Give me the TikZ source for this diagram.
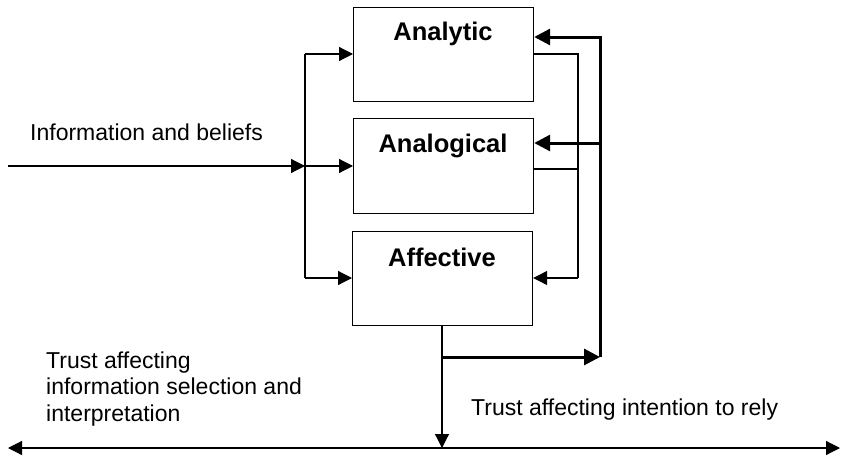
\documentclass[tikz,border=0pt]{standalone}
\usepackage{fontspec}
\setmainfont{Liberation Sans}
\usetikzlibrary{arrows.meta}
\begin{document}
\begin{tikzpicture}[x=1pt,y=-1pt,
  box/.style={draw,line width=1.2pt,minimum width=180pt,minimum height=94pt,inner sep=0pt,anchor=north west},
  boxlabel/.style={font=\fontsize{25.5}{28}\selectfont\bfseries,inner sep=0pt},
  plain/.style={font=\fontsize{23}{26.5}\selectfont,inner sep=0pt},
  thin/.style={line width=1.2pt},
  thick/.style={line width=3pt},
  tip/.style={-{Triangle[length=14pt,width=14pt]}},
  tipthick/.style={-{Triangle[length=16pt,width=16pt]}}]
\useasboundingbox (0,0) rectangle (844,458);
% boxes
\node[box] (an) at (353,7) {};
\node[box,minimum height=95pt] (ag) at (353,118) {};
\node[box] (af) at (352,231) {};
\node[boxlabel] (anl) at (443,34) {Analytic};
\node[boxlabel] (agl) at (443,146) {Analogical};
\node[boxlabel] (afl) at (442,257) {Affective};
% coordinates
\coordinate (in) at (8,166);
\coordinate (busm) at (305,166);
\coordinate (bust) at (305,54);
\coordinate (busb) at (305,278);
\coordinate (rt) at (578,54);
\coordinate (rm) at (578,169);
\coordinate (rb) at (578,278);
\coordinate (down) at (442,448);
\coordinate (br) at (442,357);
\coordinate (tb) at (600,357);
\coordinate (tt) at (600,37);
\coordinate (tm) at (600,143);
\coordinate (bl) at (8,448);
\coordinate (brr) at (840,448);
% left bus
\draw[thin,tip] (in) -- (busm);
\draw[thin] (bust) -- (busb);
\draw[thin,tip] (busm) -- (busm -| ag.west);
\draw[thin,tip] (bust) -- (bust -| an.west);
\draw[thin,tip] (busb) -- (busb -| af.west);
% right thin loop
\draw[thin] (rt -| an.east) -- (rt) -- (rb);
\draw[thin,tip] (rb) -- (rb -| af.east);
\draw[thin] (rm -| ag.east) -- (rm);
% thick loop
\draw[thin,tip] (down |- af.south) -- (down);
\draw[thick,tipthick] (br) -- (tb);
\draw[thick,tipthick] (tb) -- (tt) -- (tt -| an.east);
\draw[thick,tipthick] (tm) -- (tm -| ag.east);
% bottom line
\draw[thin,{Triangle[length=14pt,width=14pt]}-{Triangle[length=14pt,width=14pt]}] (bl) -- (brr);
% texts
\node[plain,anchor=west] (t1) at (30,132) {Information and beliefs};
\node[plain,anchor=west,align=left] (t2) at (46,389) {Trust affecting\\information selection and\\interpretation};
\node[plain,anchor=west] (t3) at (471,410) {Trust affecting intention to rely};
\end{tikzpicture}
\end{document}
